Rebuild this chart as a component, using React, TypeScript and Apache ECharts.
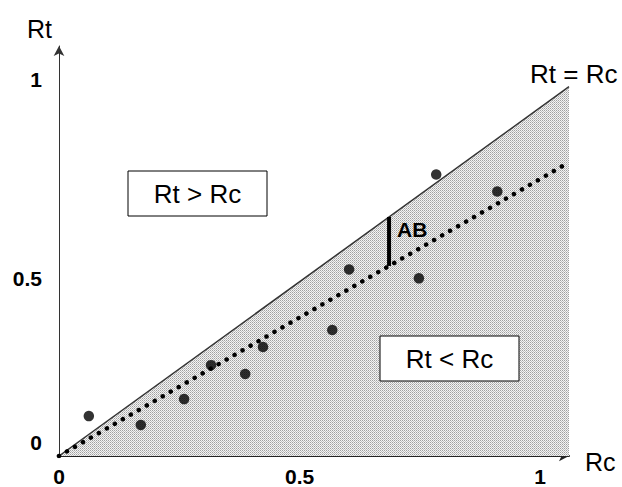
import React, { useEffect, useRef } from "react";
import * as echarts from "echarts";

// ---- data ----
const xTicks = [0, 0.5, 1];
const yTicks = [0, 0.5, 1];
const rcValues = [0.062, 0.17, 0.26, 0.316, 0.387, 0.424, 0.568, 0.603, 0.748, 0.784, 0.911];
const rtValues = [0.108, 0.084, 0.154, 0.246, 0.222, 0.295, 0.341, 0.505, 0.481, 0.762, 0.716];
const equalityLine = [
  [0, 0],
  [1.06, 1.0],
];
const trendLine = [
  [0, 0],
  [1.06, 0.795],
];
const abX = 0.686;

const FONT = "'Liberation Sans', Arial, sans-serif";

function interp(line: number[][], x: number) {
  const [a, b] = line;
  return a[1] + ((b[1] - a[1]) * (x - a[0])) / (b[0] - a[0]);
}

function makePattern() {
  const c = document.createElement("canvas");
  c.width = 2;
  c.height = 2;
  const ctx = c.getContext("2d")!;
  ctx.fillStyle = "#f4f4f4";
  ctx.fillRect(0, 0, 2, 2);
  ctx.fillStyle = "#a0a0a0";
  ctx.fillRect(0, 0, 1, 1);
  ctx.fillStyle = "#c0c0c0";
  ctx.fillRect(1, 1, 1, 1);
  return c;
}

export default function App() {
  const ref = useRef<HTMLDivElement>(null);
  useEffect(() => {
    if (!ref.current) return;
    const chart = echarts.init(ref.current, null, { renderer: "svg" });
    const points = rcValues.map((x, i) => [x, rtValues[i]]);
    const abSeg = [
      [abX, interp(equalityLine, abX)],
      [abX, interp(trendLine, abX)],
    ];
    const pat = makePattern();
    const yLabelStyle = (pad: number[]) => ({
      fontSize: 21,
      fontWeight: "bold",
      fontFamily: FONT,
      color: "#000",
      padding: pad,
    });
    chart.setOption({
      animation: false,
      backgroundColor: "#fff",
      grid: { left: 59, right: 53, top: 46, bottom: 30 },
      xAxis: {
        type: "value",
        min: 0,
        max: 1.06,
        interval: 0.5,
        splitLine: { show: false },
        axisTick: { show: false },
        axisLine: {
          show: true,
          symbol: ["none", "arrow"],
          symbolSize: [8, 10],
          lineStyle: { color: "#222", width: 2 },
        },
        axisLabel: {
          margin: 10,
          fontSize: 21,
          fontWeight: "bold",
          fontFamily: FONT,
          color: "#000",
          showMaxLabel: false,
          formatter: (v: number) => (xTicks.includes(v) ? String(v) : ""),
        },
      },
      yAxis: {
        type: "value",
        min: 0,
        max: 1.11,
        interval: 0.5,
        splitLine: { show: false },
        axisTick: { show: false },
        axisLine: {
          show: true,
          symbol: ["none", "arrow"],
          symbolSize: [8, 10],
          lineStyle: { color: "#333", width: 1 },
        },
        axisLabel: {
          margin: 17,
          align: "right",
          verticalAlign: "middle",
          fontSize: 21,
          fontWeight: "bold",
          fontFamily: FONT,
          color: "#000",
          showMaxLabel: false,
          formatter: (v: number) => {
            const i = yTicks.indexOf(v);
            if (i < 0) return "";
            return `{t${i}|${v}}`;
          },
          rich: {
            t0: yLabelStyle([0, 0, 28, 0]),
            t1: yLabelStyle([14, 0, 0, 0]),
            t2: yLabelStyle([0, 0, 14, 0]),
          },
        },
      },
      series: [
        {
          name: "Rt = Rc",
          type: "line",
          data: equalityLine,
          symbol: "none",
          z: 1,
          lineStyle: { color: "#333", width: 1.5 },
          areaStyle: {
            origin: "start",
            opacity: 1,
            color: { image: pat, repeat: "repeat", imageWidth: 2, imageHeight: 2 },
          },
        },
        {
          name: "trend",
          type: "line",
          data: trendLine,
          symbol: "none",
          z: 3,
          lineStyle: { color: "#000", width: 4.5, type: [0.01, 9.2], cap: "round" },
        },
        {
          name: "AB",
          type: "line",
          data: abSeg,
          symbol: "none",
          z: 4,
          lineStyle: { color: "#000", width: 4 },
        },
        {
          name: "points",
          type: "scatter",
          data: points,
          symbol: "circle",
          symbolSize: 10.5,
          z: 5,
          itemStyle: { color: "#000" },
        },
      ],
      graphic: [
        {
          type: "text",
          left: 27,
          top: 16,
          style: { text: "Rt", font: `25px ${FONT}`, fill: "#000" },
        },
        {
          type: "text",
          left: 585,
          top: 449,
          style: { text: "Rc", font: `25px ${FONT}`, fill: "#000" },
        },
        {
          type: "text",
          left: 530,
          top: 61,
          style: { text: "Rt = Rc", font: `26px ${FONT}`, fill: "#000" },
        },
        {
          type: "text",
          left: 397,
          top: 219,
          z: 10,
          style: { text: "AB", font: `bold 21px ${FONT}`, fill: "#000" },
        },
        {
          type: "rect",
          z: 10,
          shape: { x: 128, y: 171, width: 139, height: 45 },
          style: { fill: "#fff", stroke: "#000", lineWidth: 1 },
        },
        {
          type: "text",
          z: 11,
          x: 197.5,
          y: 193.5,
          style: {
            text: "Rt > Rc",
            font: `26px ${FONT}`,
            fill: "#000",
            align: "center",
            verticalAlign: "middle",
          },
        },
        {
          type: "rect",
          z: 10,
          shape: { x: 380, y: 336, width: 139, height: 45 },
          style: { fill: "#fff", stroke: "#000", lineWidth: 1 },
        },
        {
          type: "text",
          z: 11,
          x: 449.5,
          y: 358.5,
          style: {
            text: "Rt < Rc",
            font: `26px ${FONT}`,
            fill: "#000",
            align: "center",
            verticalAlign: "middle",
          },
        },
      ],
    });
    return () => chart.dispose();
  }, []);
  return (
    <div
      ref={ref}
      style={{ position: "fixed", left: 0, top: 0, width: 622, height: 487 }}
    />
  );
}
